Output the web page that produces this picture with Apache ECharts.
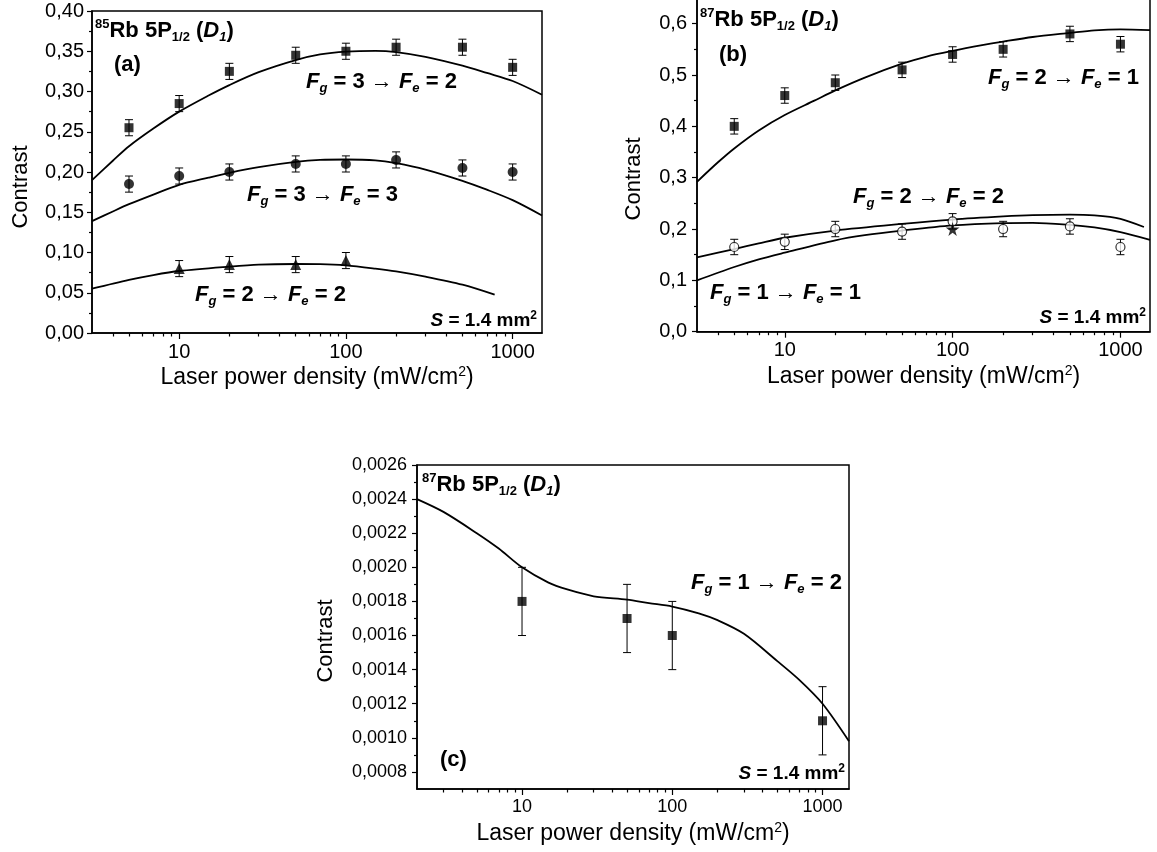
<!DOCTYPE html>
<html>
<head>
<meta charset="utf-8">
<script src="https://cdn.jsdelivr.net/npm/echarts@6/dist/echarts.min.js"></script>
<style>html,body{margin:0;padding:0;background:#fff;}#main{width:1157px;height:852px;}</style>
</head>
<body>
<div id="main"></div>
<script>
// ---------- DATA ----------
// Panel (a) 85Rb
const X_A = [5, 10, 20, 50, 100, 200, 500, 1000];
const A_F3E2 = [0.255, 0.285, 0.325, 0.345, 0.35, 0.355, 0.355, 0.33];
const A_F3E3 = [0.185, 0.195, 0.20, 0.21, 0.21, 0.215, 0.205, 0.20];
const X_A_F2E2 = [10, 20, 50, 100];
const A_F2E2 = [0.08, 0.085, 0.085, 0.09];
const ERR_A = 0.01;
const FIT_X_A = [3, 4, 5, 7, 10, 15, 20, 30, 50, 70, 100, 150, 200, 300, 500, 700, 1000, 1500];
const FIT_A_F3E2 = [0.190, 0.214, 0.232, 0.254, 0.275, 0.295, 0.308, 0.324, 0.339, 0.346, 0.3495, 0.3505, 0.349, 0.343, 0.332, 0.323, 0.313, 0.296];
const FIT_A_F3E3 = [0.139, 0.151, 0.160, 0.172, 0.184, 0.193, 0.199, 0.206, 0.2125, 0.215, 0.2155, 0.2145, 0.211, 0.203, 0.189, 0.178, 0.165, 0.146];
const FIT_X_A_F2E2 = [3, 5, 7, 10, 20, 30, 50, 70, 100, 150, 200, 300, 500, 780];
const FIT_A_F2E2 = [0.055, 0.066, 0.072, 0.077, 0.0825, 0.085, 0.0857, 0.0855, 0.084, 0.080, 0.0765, 0.070, 0.060, 0.0476];

// Panel (b) 87Rb
const X_B = [5, 10, 20, 50, 100, 200, 500, 1000];
const B_F2E1 = [0.40, 0.46, 0.485, 0.51, 0.54, 0.55, 0.58, 0.56];
const B_OPEN = [0.165, 0.175, 0.20, 0.195, 0.215, 0.20, 0.205, 0.165];
const X_B_STAR = [100];
const B_STAR = [0.20];
const ERR_B = 0.015;
const FIT_X_B_F2E1 = [3, 4, 5, 7, 10, 15, 20, 30, 50, 70, 100, 150, 200, 300, 500, 700, 1000, 1500];
const FIT_B_F2E1 = [0.292, 0.330, 0.357, 0.392, 0.422, 0.450, 0.470, 0.495, 0.522, 0.536, 0.547, 0.558, 0.565, 0.574, 0.582, 0.587, 0.589, 0.5875];
const FIT_X_B_F2E2 = [3, 5, 7, 10, 20, 50, 100, 200, 300, 500, 700, 1000, 1380];
const FIT_B_F2E2 = [0.145, 0.161, 0.172, 0.183, 0.197, 0.210, 0.2185, 0.2245, 0.227, 0.228, 0.2265, 0.220, 0.204];
const FIT_X_B_F1E1 = [3, 5, 7, 10, 20, 30, 50, 100, 200, 300, 500, 700, 1000, 1500];
const FIT_B_F1E1 = [0.100, 0.126, 0.141, 0.154, 0.178, 0.188, 0.197, 0.207, 0.2115, 0.212, 0.208, 0.203, 0.194, 0.179];

// Panel (c) 87Rb Fg=1 -> Fe=2
const X_C = [10, 50, 100, 1000];
const C_F1E2 = [0.0018, 0.0017, 0.0016, 0.0011];
const ERR_C = 0.0002;
const FIT_X_C = [2, 3, 5, 7, 10, 15, 20, 30, 50, 70, 100, 150, 200, 300, 500, 700, 1000, 1500];
const FIT_C = [0.00240, 0.002325, 0.00220, 0.00211, 0.00200, 0.00191, 0.00187, 0.00183, 0.00181, 0.00179, 0.00177, 0.00173, 0.00169, 0.00161, 0.00145, 0.00134, 0.00120, 0.00098];

// Tick values
const X_MAJOR = [10, 100, 1000];
const X_MINOR = [4, 5, 6, 7, 8, 9, 20, 30, 40, 50, 60, 70, 80, 90, 200, 300, 400, 500, 600, 700, 800, 900];
const X_MINOR_C = [3, 4, 5, 6, 7, 8, 9, 20, 30, 40, 50, 60, 70, 80, 90, 200, 300, 400, 500, 600, 700, 800, 900];
const Y_TICKS_A = [0, 0.05, 0.10, 0.15, 0.20, 0.25, 0.30, 0.35, 0.40];
const Y_MINOR_A = [0.025, 0.075, 0.125, 0.175, 0.225, 0.275, 0.325, 0.375];
const Y_TICKS_B = [0, 0.1, 0.2, 0.3, 0.4, 0.5, 0.6];
const Y_MINOR_B = [0.05, 0.15, 0.25, 0.35, 0.45, 0.55];
const Y_TICKS_C = [0.0008, 0.0010, 0.0012, 0.0014, 0.0016, 0.0018, 0.0020, 0.0022, 0.0024, 0.0026];
const Y_MINOR_C = [0.0009, 0.0011, 0.0013, 0.0015, 0.0017, 0.0019, 0.0021, 0.0023, 0.0025];

// ---------- BUILD ----------
const FF = "'Liberation Sans', Arial, Helvetica, sans-serif";
const zip = (xs, ys) => xs.map((x, i) => [x, ys[i]]);
const zipErr = (xs, ys, e) => xs.map((x, i) => [x, ys[i], e]);

const grids = [
  { left: 92, top: 11, width: 450, height: 322 },
  { left: 697, top: -2, width: 453, height: 333.7 },
  { left: 417, top: 465, width: 432, height: 324 }
].map(g => Object.assign({ show: true, borderColor: '#000', borderWidth: 1.5, backgroundColor: 'transparent', containLabel: false, outerBoundsMode: 'none' }, g));

const nameRich = {
  n: { fontFamily: FF, fontSize: 23, color: '#000', lineHeight: 26 },
  s: { fontFamily: FF, fontSize: 14, color: '#000', verticalAlign: 'top', lineHeight: 13 }
};

function mainX(gi, min, max, fs) {
  return {
    type: 'log', logBase: 10, gridIndex: gi, min: min, max: max, position: 'bottom',
    name: '{n|Laser power density (mW/cm}{s|2}{n|)}', nameLocation: 'middle', nameGap: 32,
    nameTextStyle: { rich: nameRich },
    axisLine: { show: true, lineStyle: { color: '#000', width: 1.5 } },
    axisTick: { show: true, customValues: X_MAJOR, length: 6, lineStyle: { color: '#000', width: 1.2 } },
    axisLabel: { show: true, customValues: X_MAJOR, color: '#000', fontSize: fs, fontFamily: FF, margin: 9,
      formatter: v => String(Math.round(v)) },
    splitLine: { show: false }, minorTick: { show: false }, minorSplitLine: { show: false }
  };
}
function minorX(gi, min, max, vals) {
  return {
    type: 'log', logBase: 10, gridIndex: gi, min: min, max: max, position: 'bottom',
    axisLine: { show: false },
    axisTick: { show: true, customValues: vals, length: 3.5, lineStyle: { color: '#000', width: 1.2 } },
    axisLabel: { show: false }, splitLine: { show: false }
  };
}
function mainY(gi, min, max, ticks, dec, fs, gap, pad, margin) {
  return {
    type: 'value', gridIndex: gi, min: min, max: max, position: 'left',
    name: 'Contrast', nameLocation: 'middle', nameGap: gap,
    nameTextStyle: { fontFamily: FF, fontSize: 22, color: '#000', padding: [0, pad, 0, 0] },
    axisLine: { show: true, lineStyle: { color: '#000', width: 1.5 } },
    axisTick: { show: true, customValues: ticks, length: 5, lineStyle: { color: '#000', width: 1.2 } },
    axisLabel: { show: true, customValues: ticks, color: '#000', fontSize: fs, fontFamily: FF, margin: margin,
      formatter: v => Number(v).toFixed(dec).replace('.', ',') },
    splitLine: { show: false }
  };
}
function minorY(gi, min, max, vals) {
  return {
    type: 'value', gridIndex: gi, min: min, max: max, position: 'left',
    axisLine: { show: false },
    axisTick: { show: true, customValues: vals, length: 3, lineStyle: { color: '#000', width: 1.2 } },
    axisLabel: { show: false }, splitLine: { show: false }
  };
}

function errBars(xi, yi, data, hw) {
  return {
    type: 'custom', xAxisIndex: xi, yAxisIndex: yi, z: 3,
    encode: { x: 0, y: 1 },
    data: data,
    renderItem: function (params, api) {
      const x = api.value(0), y = api.value(1), e = api.value(2);
      const t = api.coord([x, y + e]);
      const b = api.coord([x, y - e]);
      const st = { stroke: '#000', lineWidth: 1 };
      return {
        type: 'group', children: [
          { type: 'line', shape: { x1: t[0], y1: t[1], x2: b[0], y2: b[1] }, style: st },
          { type: 'line', shape: { x1: t[0] - hw, y1: t[1], x2: t[0] + hw, y2: t[1] }, style: st },
          { type: 'line', shape: { x1: b[0] - hw, y1: b[1], x2: b[0] + hw, y2: b[1] }, style: st }
        ]
      };
    }
  };
}
function fit(xi, yi, data) {
  return { type: 'line', xAxisIndex: xi, yAxisIndex: yi, data: data, smooth: 0.3, showSymbol: false, z: 2,
    lineStyle: { color: '#000', width: 1.8 }, silent: true, animation: false };
}
function pts(xi, yi, data, symbol, size, open) {
  return { type: 'scatter', xAxisIndex: xi, yAxisIndex: yi, data: data, symbol: symbol, symbolSize: size, z: 5,
    itemStyle: open ? { color: '#fff', borderColor: '#000', borderWidth: 1.2 } : { color: '#000', borderWidth: 0 } };
}

const STAR = 'path://M50,0 L61,35 L98,35 L68,57 L79,91 L50,70 L21,91 L32,57 L2,35 L39,35 Z';

// rich text for annotations
const R = {
  b: { fontFamily: FF, fontSize: 22, fontWeight: 'bold', color: '#000', lineHeight: 26 },
  bi: { fontFamily: FF, fontSize: 22, fontWeight: 'bold', fontStyle: 'italic', color: '#000', lineHeight: 26 },
  sub: { fontFamily: FF, fontSize: 13, fontWeight: 'bold', fontStyle: 'italic', color: '#000', verticalAlign: 'bottom', lineHeight: 12 },
  subn: { fontFamily: FF, fontSize: 13, fontWeight: 'bold', color: '#000', verticalAlign: 'bottom', lineHeight: 12 },
  sup: { fontFamily: FF, fontSize: 13, fontWeight: 'bold', color: '#000', verticalAlign: 'top', lineHeight: 13 },
  sb: { fontFamily: FF, fontSize: 19, fontWeight: 'bold', color: '#000', lineHeight: 22 },
  sbi: { fontFamily: FF, fontSize: 19, fontWeight: 'bold', fontStyle: 'italic', color: '#000', lineHeight: 22 },
  ssup: { fontFamily: FF, fontSize: 12, fontWeight: 'bold', color: '#000', verticalAlign: 'top', lineHeight: 11 }
};
function txt(x, y, text, align) {
  return { type: 'text', x: x, y: y, z: 100, silent: true,
    style: { text: text, rich: R, align: align || 'left', verticalAlign: 'middle', fill: '#000' } };
}
const TITLE = (iso) => '{sup|' + iso + '}{b|Rb 5P}{subn|1/2}{b| (}{bi|D}{sub|1}{b|)}';
const TRANS = (g, e) => '{bi|F}{sub|g}{b| = ' + g + ' \u2192 }{bi|F}{sub|e}{b| = ' + e + '}';
const AREA = '{sbi|S}{sb| = 1.4 mm}{ssup|2}';

const option = {
  animation: false,
  backgroundColor: '#fff',
  grid: grids,
  xAxis: [mainX(0, 3, 1500, 20), mainX(1, 3, 1500, 20), mainX(2, 2, 1500, 18),
          minorX(0, 3, 1500, X_MINOR), minorX(1, 3, 1500, X_MINOR), minorX(2, 2, 1500, X_MINOR_C)],
  yAxis: [mainY(0, 0, 0.40, Y_TICKS_A, 2, 20, 60, 30, 8),
          mainY(1, 0, 0.65, Y_TICKS_B, 1, 20, 52, 28, 10),
          mainY(2, 0.0007, 0.0026, Y_TICKS_C, 4, 18, 80, 28, 10),
          minorY(0, 0, 0.40, Y_MINOR_A), minorY(1, 0, 0.65, Y_MINOR_B), minorY(2, 0.0007, 0.0026, Y_MINOR_C)],
  series: [
    // (a)
    fit(0, 0, zip(FIT_X_A, FIT_A_F3E2)),
    fit(0, 0, zip(FIT_X_A, FIT_A_F3E3)),
    fit(0, 0, zip(FIT_X_A_F2E2, FIT_A_F2E2)),
    errBars(0, 0, zipErr(X_A, A_F3E2, ERR_A), 4),
    errBars(0, 0, zipErr(X_A, A_F3E3, ERR_A), 4),
    errBars(0, 0, zipErr(X_A_F2E2, A_F2E2, ERR_A), 4),
    pts(0, 0, zip(X_A, A_F3E2), 'rect', 9),
    pts(0, 0, zip(X_A, A_F3E3), 'circle', 10),
    pts(0, 0, zip(X_A_F2E2, A_F2E2), 'triangle', 11),
    // (b)
    fit(1, 1, zip(FIT_X_B_F2E1, FIT_B_F2E1)),
    fit(1, 1, zip(FIT_X_B_F2E2, FIT_B_F2E2)),
    fit(1, 1, zip(FIT_X_B_F1E1, FIT_B_F1E1)),
    errBars(1, 1, zipErr(X_B, B_F2E1, ERR_B), 4),
    errBars(1, 1, zipErr(X_B, B_OPEN, ERR_B), 4),
    pts(1, 1, zip(X_B, B_F2E1), 'rect', 9),
    pts(1, 1, zip(X_B, B_OPEN), 'circle', 9, true),
    pts(1, 1, zip(X_B_STAR, B_STAR), STAR, 14),
    // (c)
    fit(2, 2, zip(FIT_X_C, FIT_C)),
    errBars(2, 2, zipErr(X_C, C_F1E2, ERR_C), 4),
    pts(2, 2, zip(X_C, C_F1E2), 'rect', 9)
  ],
  graphic: [
    // (a)
    txt(95, 31, TITLE('85')),
    txt(114, 65, '{b|(a)}'),
    txt(306, 82, TRANS(3, 2)),
    txt(247, 195, TRANS(3, 3)),
    txt(195, 295, TRANS(2, 2)),
    txt(537, 321, AREA, 'right'),
    // (b)
    txt(700, 20, TITLE('87')),
    txt(719, 55, '{b|(b)}'),
    txt(988, 78, TRANS(2, 1)),
    txt(853, 197, TRANS(2, 2)),
    txt(710, 293, TRANS(1, 1)),
    txt(1146, 318, AREA, 'right'),
    // (c)
    txt(422, 485, TITLE('87')),
    txt(691, 583, TRANS(1, 2)),
    txt(440, 760, '{b|(c)}'),
    txt(845, 774, AREA, 'right')
  ]
};

const chart = echarts.init(document.getElementById('main'), null, { renderer: 'canvas' });
chart.setOption(option);
</script>
</body>
</html>
